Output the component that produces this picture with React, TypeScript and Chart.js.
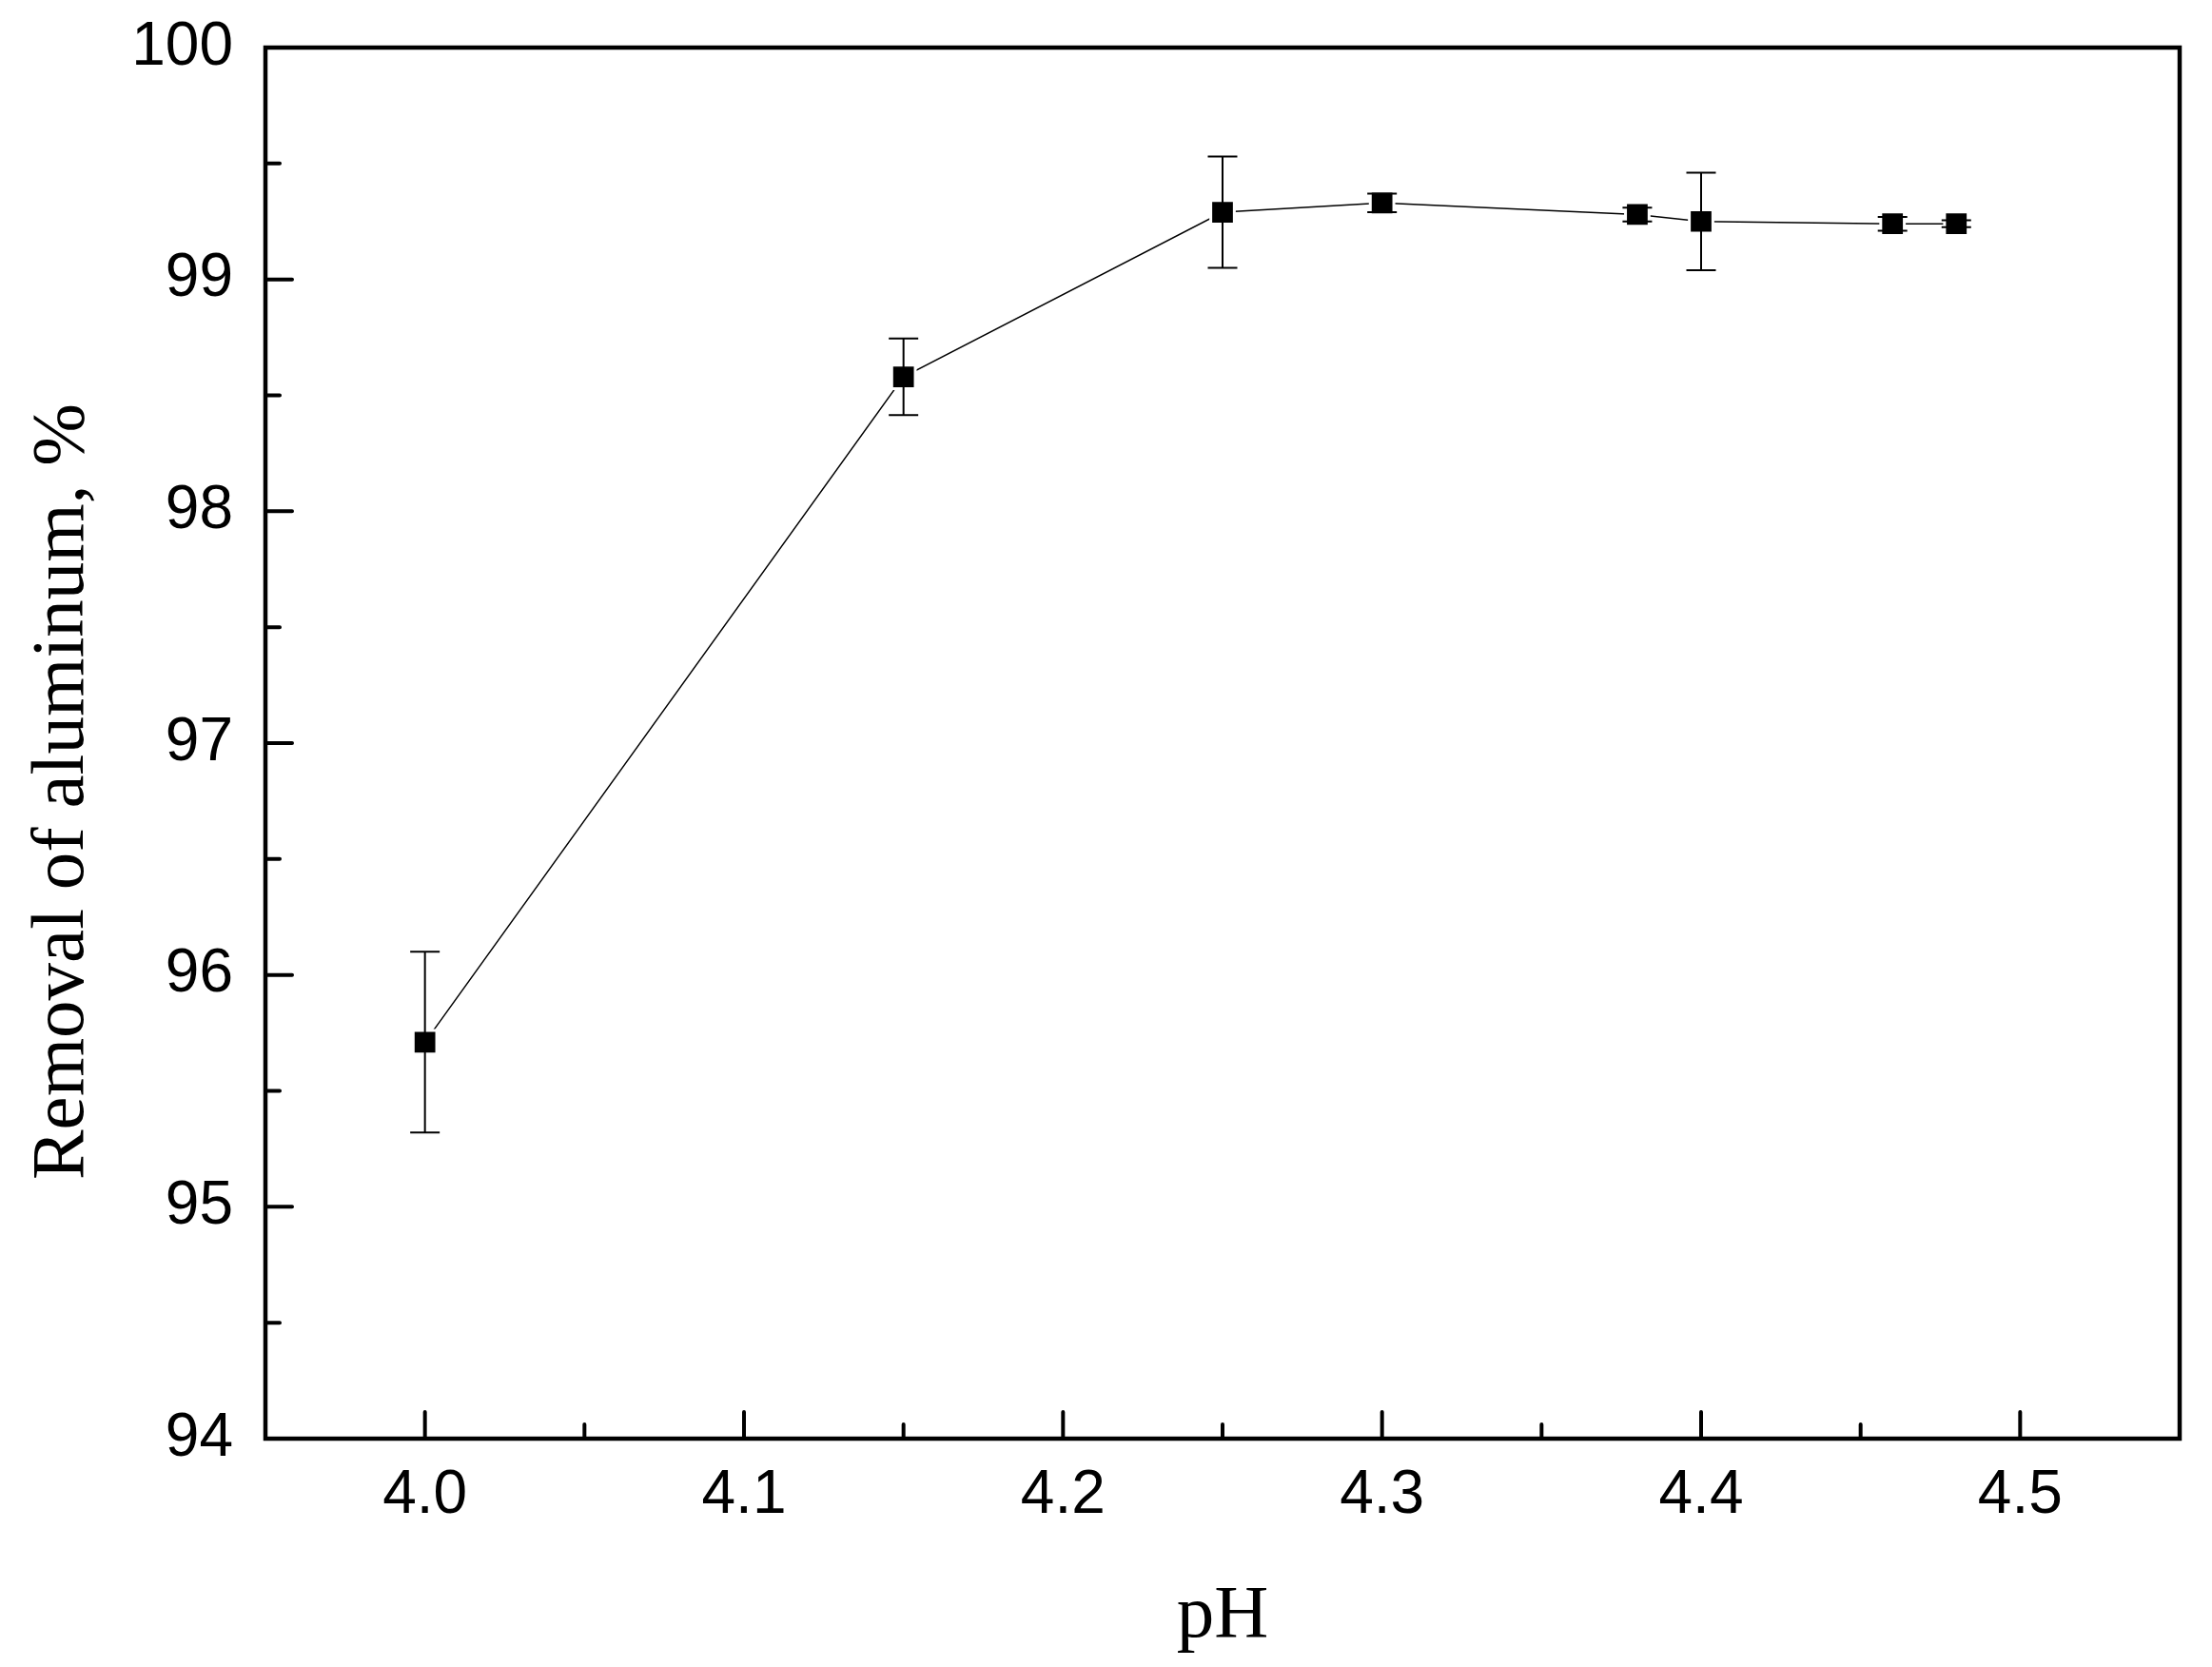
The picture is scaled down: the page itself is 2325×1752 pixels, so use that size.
import React, { useEffect, useRef } from "react";
import { Chart, registerables } from "chart.js";

Chart.register(...registerables);

// ---- data ----
const phValues = [4.0, 4.15, 4.25, 4.3, 4.38, 4.4, 4.46, 4.48];
const removalValues = [95.71, 98.58, 99.29, 99.33, 99.28, 99.25, 99.24, 99.24];
const removalErrors = [0.39, 0.165, 0.24, 0.04, 0.03, 0.21, 0.03, 0.015];

const xMajorTicks = [4.0, 4.1, 4.2, 4.3, 4.4, 4.5];
const xMinorTicks = [4.05, 4.15, 4.25, 4.35, 4.45];
const yMajorTicks = [94, 95, 96, 97, 98, 99, 100];
const yMinorTicks = [94.5, 95.5, 96.5, 97.5, 98.5, 99.5];

const xTitle = "pH";
const yTitle = "Removal of aluminum, %";

const SANS = "'Liberation Sans', Arial, Helvetica, sans-serif";
const SERIF = "'Liberation Serif', 'Times New Roman', Times, serif";

const framePlugin = {
  id: "frameAndErrors",
  afterDatasetsDraw(chart: any) {
    const { ctx, scales } = chart;
    const x = scales.x;
    const y = scales.y;
    ctx.save();
    ctx.strokeStyle = "#000";
    ctx.lineWidth = 2;
    phValues.forEach((p, i) => {
      const px = x.getPixelForValue(p);
      const top = y.getPixelForValue(removalValues[i] + removalErrors[i]);
      const bot = y.getPixelForValue(removalValues[i] - removalErrors[i]);
      const cap = 15.5;
      ctx.beginPath();
      ctx.moveTo(px, top);
      ctx.lineTo(px, bot);
      ctx.moveTo(px - cap, top);
      ctx.lineTo(px + cap, top);
      ctx.moveTo(px - cap, bot);
      ctx.lineTo(px + cap, bot);
      ctx.stroke();
    });
    ctx.restore();
  },
  afterDraw(chart: any) {
    const { ctx, chartArea: a, scales } = chart;
    const x = scales.x;
    const y = scales.y;
    ctx.save();
    ctx.strokeStyle = "#000";
    ctx.lineWidth = 4.5;
    ctx.strokeRect(a.left, a.top, a.right - a.left, a.bottom - a.top);

    ctx.lineWidth = 4;
    ctx.lineCap = "round";
    ctx.beginPath();
    xMajorTicks.forEach((v) => {
      const px = x.getPixelForValue(v);
      ctx.moveTo(px, a.bottom);
      ctx.lineTo(px, a.bottom - 28);
    });
    xMinorTicks.forEach((v) => {
      const px = x.getPixelForValue(v);
      ctx.moveTo(px, a.bottom);
      ctx.lineTo(px, a.bottom - 15);
    });
    yMajorTicks.forEach((v) => {
      const py = y.getPixelForValue(v);
      ctx.moveTo(a.left, py);
      ctx.lineTo(a.left + 28, py);
    });
    yMinorTicks.forEach((v) => {
      const py = y.getPixelForValue(v);
      ctx.moveTo(a.left, py);
      ctx.lineTo(a.left + 15, py);
    });
    ctx.stroke();

    // axis titles
    ctx.fillStyle = "#000";
    ctx.font = `79px ${SERIF}`;
    ctx.textAlign = "center";
    ctx.textBaseline = "alphabetic";
    ctx.fillText(xTitle, (a.left + a.right) / 2, 1720);

    ctx.translate(87, 832);
    ctx.rotate(-Math.PI / 2);
    ctx.fillText(yTitle, 0, 0);
    ctx.restore();
  },
};

export default function App() {
  const canvasRef = useRef<HTMLCanvasElement | null>(null);

  useEffect(() => {
    const canvas = canvasRef.current;
    if (!canvas) return;
    const chart = new Chart(canvas, {
      type: "line",
      data: {
        datasets: [
          {
            data: phValues.map((p, i) => ({ x: p, y: removalValues[i] })),
            borderColor: "#000",
            borderWidth: 1.5,
            backgroundColor: "#000",
            pointStyle: "rect",
            pointRadius: 17.5,
            pointBorderWidth: 3,
            pointBorderColor: "#fff",
            pointBackgroundColor: "#000",
            tension: 0,
            fill: false,
          },
        ],
      },
      options: {
        responsive: false,
        animation: false,
        events: [],
        layout: { padding: { top: 50, right: 34, left: 0, bottom: 0 } },
        plugins: {
          legend: { display: false },
          tooltip: { enabled: false },
          title: { display: false },
        },
        scales: {
          x: {
            type: "linear",
            min: 3.95,
            max: 4.55,
            afterBuildTicks: (s: any) => {
              s.ticks = xMajorTicks.map((v) => ({ value: v }));
            },
            afterFit: (s: any) => {
              s.height = 240;
              s.paddingLeft = 0;
              s.paddingRight = 0;
            },
            grid: { display: false, drawTicks: false },
            border: { display: false },
            ticks: {
              autoSkip: false,
              maxRotation: 0,
              minRotation: 0,
              padding: 22,
              color: "#000",
              font: { family: SANS, size: 64 },
              callback: (v: any) => Number(v).toFixed(1),
            },
          },
          y: {
            type: "linear",
            min: 94,
            max: 100,
            afterBuildTicks: (s: any) => {
              s.ticks = yMajorTicks.map((v) => ({ value: v }));
            },
            afterFit: (s: any) => {
              s.width = 279;
              s.paddingTop = 0;
              s.paddingBottom = 0;
            },
            grid: { display: false, drawTicks: false },
            border: { display: false },
            ticks: {
              autoSkip: false,
              padding: 34,
              color: "#000",
              font: { family: SANS, size: 64 },
              callback: (v: any) => String(Math.round(Number(v))),
            },
          },
        },
      },
      plugins: [framePlugin],
    } as any);
    return () => chart.destroy();
  }, []);

  return (
    <div style={{ position: "absolute", left: 0, top: 0, width: 2325, height: 1752, background: "#fff" }}>
      <canvas ref={canvasRef} width={2325} height={1752} style={{ width: 2325, height: 1752, display: "block" }} />
    </div>
  );
}
